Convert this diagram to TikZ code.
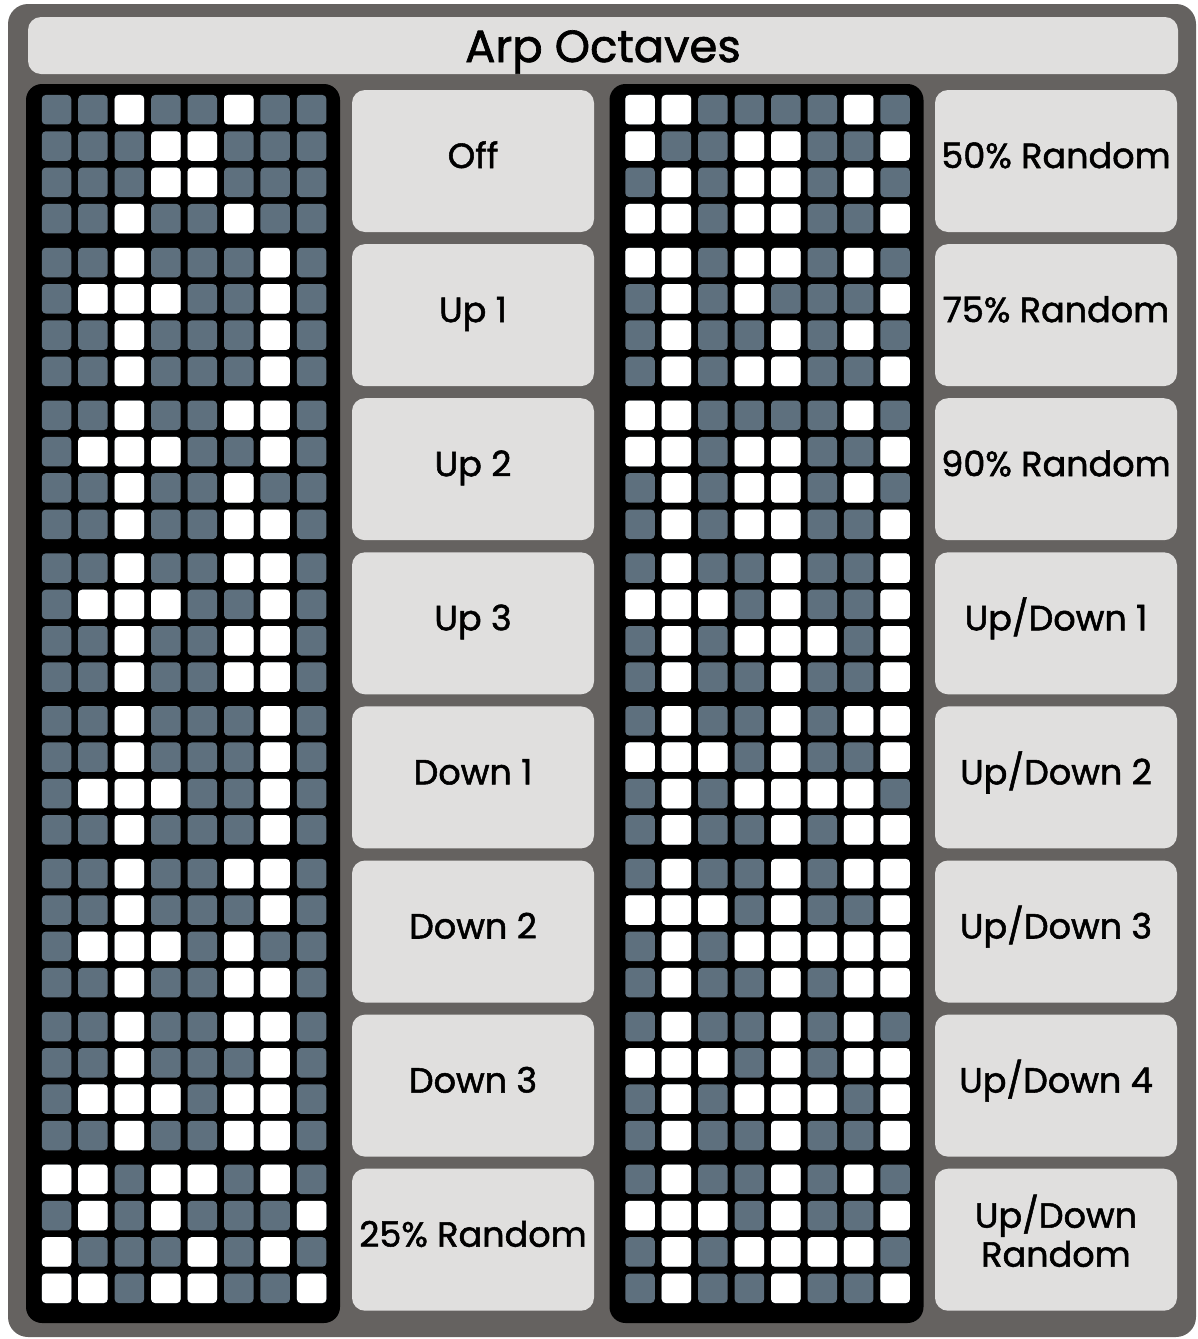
\documentclass[tikz,border=0pt]{standalone}
\usepackage{fontspec}
\setmainfont{Poppins}[FakeBold=1.5]
\usepackage{xcolor}
\definecolor{framegray}{RGB}{101, 98, 96}
\definecolor{lightpanel}{RGB}{224, 223, 222}
\definecolor{slatecell}{RGB}{94, 112, 126}
\usepackage{tikz}

\newcommand{\arpblock}[3]{%
  \foreach \r in {1,...,4}
    \foreach \c in {1,...,8}
      \fill[offcell] ({#1+36.45*(\c-1)-14.75},{#2+36.33*(\r-1)-14.75}) rectangle ++(29.5,29.5);
  \foreach \r/\c in {#3}
    \fill[oncell] ({#1+36.45*(\c-1)-14.75},{#2+36.33*(\r-1)-14.75}) rectangle ++(29.5,29.5);
}

\begin{document}
\begin{tikzpicture}[x=1pt, y=-1pt,
    frame/.style={fill=framegray, rounded corners=20pt},
    panel/.style={rectangle, rounded corners=16pt, fill=black, minimum width=314pt, minimum height=1239pt, inner sep=0pt},
    lbox/.style={rectangle, rounded corners=13pt, fill=lightpanel, minimum width=242pt, minimum height=142pt, align=center, inner sep=0pt, text height=26pt, text depth=12pt, font=\fontsize{35}{39}\selectfont},
    titlebar/.style={rectangle, rounded corners=13pt, fill=lightpanel, minimum width=1150pt, minimum height=57pt, inner sep=0pt, text height=40pt, text depth=7pt, font=\fontsize{45}{48}\selectfont},
    offcell/.style={fill=slatecell, rounded corners=4pt},
    oncell/.style={fill=white, rounded corners=4pt}
  ]
    \useasboundingbox (0,0) rectangle (1198,1339);
    \fill[frame] (8,4) rectangle (1196,1337);
    \node[titlebar] (title) at (603,45.5) {Arp Octaves};

    \node[panel] (leftgrid) at (183,703.5) {};
    \node[panel] (rightgrid) at (766.5,703.5) {};

    \arpblock{56.5}{109.7}{1/3,1/6, 2/4,2/5, 3/4,3/5, 4/3,4/6}
    \arpblock{56.5}{262.5}{1/3,1/7, 2/2,2/3,2/4,2/7, 3/3,3/7, 4/3,4/7}
    \arpblock{56.5}{415.3}{1/3,1/6,1/7, 2/2,2/3,2/4,2/7, 3/3,3/6, 4/3,4/6,4/7}
    \arpblock{56.5}{568.1}{1/3,1/6,1/7, 2/2,2/3,2/4,2/7, 3/3,3/6,3/7, 4/3,4/6,4/7}
    \arpblock{56.5}{720.9}{1/3,1/7, 2/3,2/7, 3/2,3/3,3/4,3/7, 4/3,4/7}
    \arpblock{56.5}{873.7}{1/3,1/6,1/7, 2/3,2/7, 3/2,3/3,3/4,3/6, 4/3,4/6,4/7}
    \arpblock{56.5}{1026.5}{1/3,1/6,1/7, 2/3,2/7, 3/2,3/3,3/4,3/6,3/7, 4/3,4/6,4/7}
    \arpblock{56.5}{1179.3}{1/1,1/2,1/4,1/5,1/7, 2/2,2/4,2/8, 3/1,3/5,3/7, 4/1,4/2,4/4,4/5,4/8}

    \arpblock{640}{109.7}{1/1,1/2,1/7, 2/1,2/4,2/5,2/8, 3/2,3/4,3/5,3/7, 4/1,4/2,4/4,4/5,4/8}
    \arpblock{640}{262.5}{1/1,1/2,1/4,1/5,1/7, 2/2,2/4,2/8, 3/2,3/5,3/7, 4/2,4/4,4/5,4/8}
    \arpblock{640}{415.3}{1/1,1/2,1/7, 2/1,2/2,2/4,2/5,2/8, 3/2,3/4,3/5,3/7, 4/2,4/4,4/5,4/8}
    \arpblock{640}{568.1}{1/2,1/5,1/8, 2/1,2/2,2/3,2/5,2/8, 3/2,3/4,3/5,3/6,3/8, 4/2,4/5,4/8}
    \arpblock{640}{720.9}{1/2,1/5,1/7,1/8, 2/1,2/2,2/3,2/5,2/8, 3/2,3/4,3/5,3/6,3/7, 4/2,4/5,4/7,4/8}
    \arpblock{640}{873.7}{1/2,1/5,1/7,1/8, 2/1,2/2,2/3,2/5,2/8, 3/2,3/4,3/5,3/6,3/7,3/8, 4/2,4/5,4/7,4/8}
    \arpblock{640}{1026.5}{1/2,1/5,1/7, 2/1,2/2,2/3,2/5,2/7,2/8, 3/2,3/4,3/5,3/6,3/8, 4/2,4/5,4/8}
    \arpblock{640}{1179.3}{1/2,1/5,1/7, 2/1,2/2,2/3,2/5,2/8, 3/2,3/4,3/5,3/6,3/7, 4/2,4/5,4/8}

    \node[lbox] (off) at (473,161) {Off};
    \node[lbox] (up1) at (473,315.1) {Up 1};
    \node[lbox] (up2) at (473,469.2) {Up 2};
    \node[lbox] (up3) at (473,623.3) {Up 3};
    \node[lbox] (down1) at (473,777.4) {Down 1};
    \node[lbox] (down2) at (473,931.5) {Down 2};
    \node[lbox] (down3) at (473,1085.6) {Down 3};
    \node[lbox] (rand25) at (473,1239.7) {25\% Random};

    \node[lbox] (rand50) at (1056,161) {50\% Random};
    \node[lbox] (rand75) at (1056,315.1) {75\% Random};
    \node[lbox] (rand90) at (1056,469.2) {90\% Random};
    \node[lbox] (updown1) at (1056,623.3) {Up/Down 1};
    \node[lbox] (updown2) at (1056,777.4) {Up/Down 2};
    \node[lbox] (updown3) at (1056,931.5) {Up/Down 3};
    \node[lbox] (updown4) at (1056,1085.6) {Up/Down 4};
    \node[lbox, text height=80pt, text depth=26pt] (updownrand) at (1056,1239.7) {Up/Down\\Random};
  \end{tikzpicture}
\end{document}
